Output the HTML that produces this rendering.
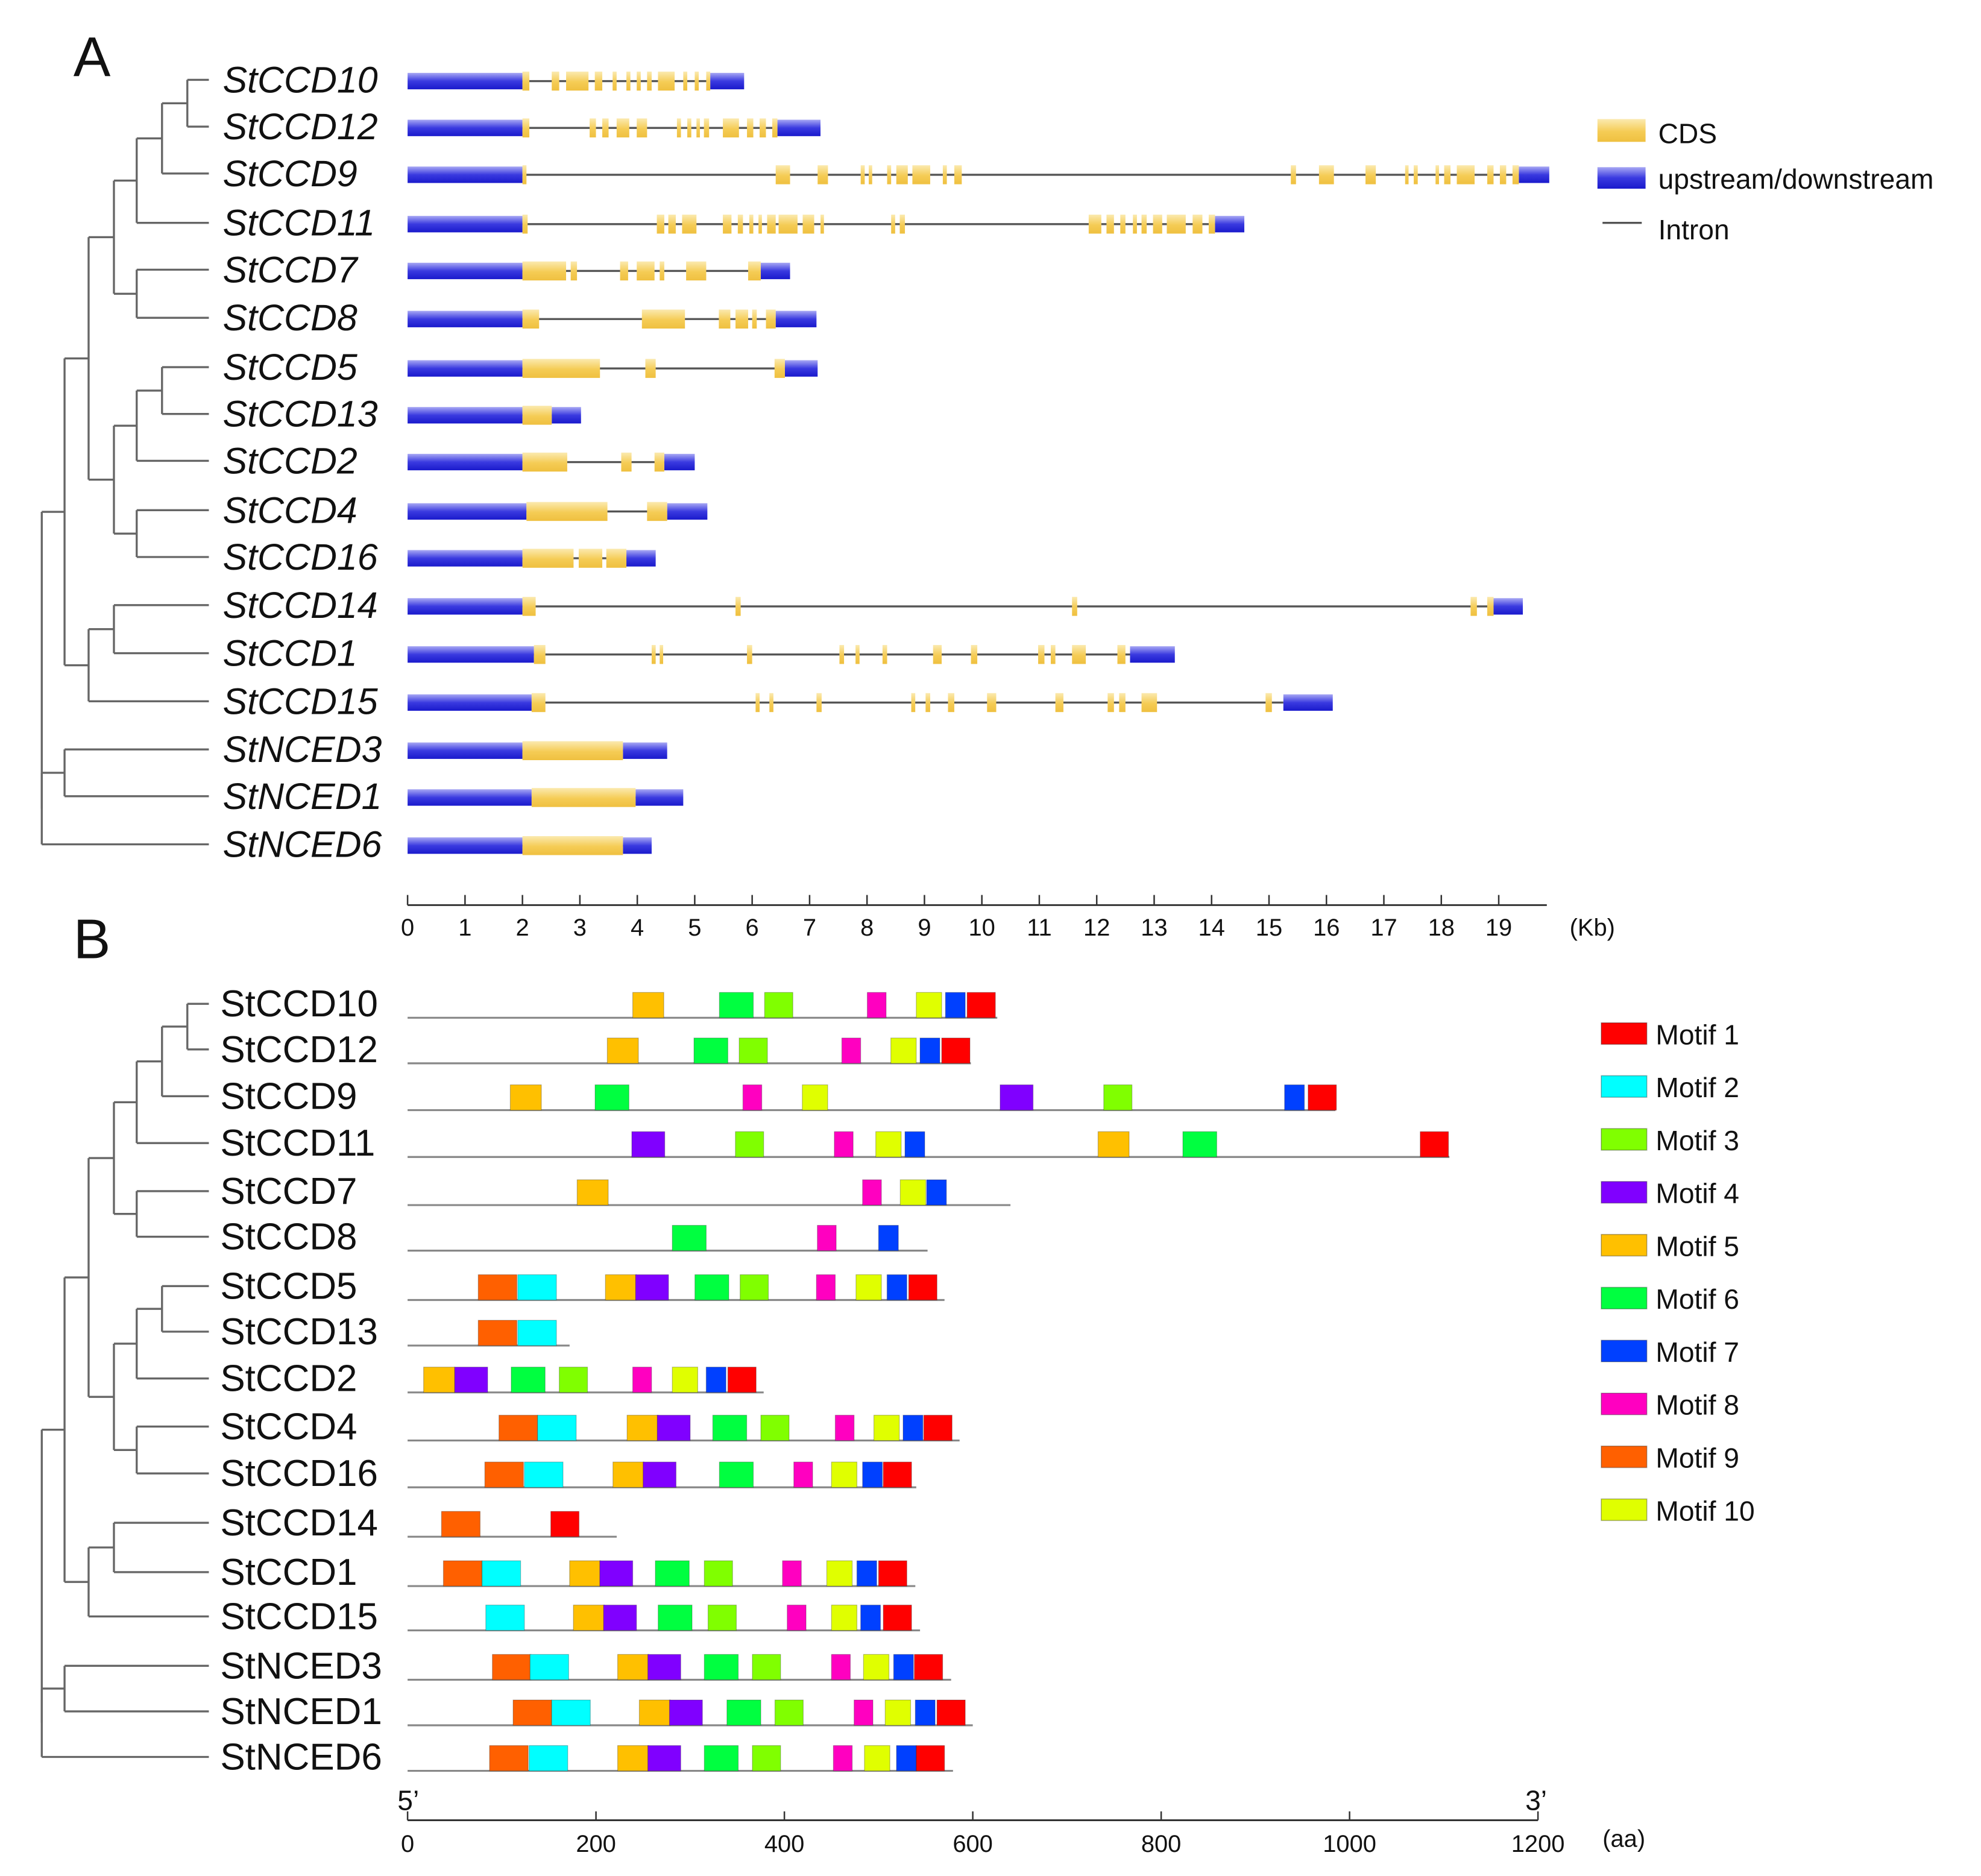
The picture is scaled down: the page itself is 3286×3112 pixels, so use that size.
<!DOCTYPE html>
<html><head><meta charset="utf-8"><style>
html,body{margin:0;padding:0;background:#fff}
svg{display:block}
text{font-family:"Liberation Sans",Arial,sans-serif;fill:#111}
</style></head><body>
<svg id="fig" width="3286" height="3112" viewBox="0 0 1565 1482" xmlns="http://www.w3.org/2000/svg">
<defs>
<linearGradient id="gb" x1="0" y1="0" x2="0" y2="1"><stop offset="0" stop-color="#a8a8f4"/><stop offset="0.5" stop-color="#3a3ae0"/><stop offset="1" stop-color="#1a1acc"/></linearGradient>
<linearGradient id="gy" x1="0" y1="0" x2="0" y2="1"><stop offset="0" stop-color="#fbeab0"/><stop offset="0.55" stop-color="#f5cc55"/><stop offset="1" stop-color="#efc040"/></linearGradient>
</defs>
<g id="panelA"></g>
<g id="panelB"></g>
</svg>
<script>
const genes=["StCCD10","StCCD12","StCCD9","StCCD11","StCCD7","StCCD8","StCCD5","StCCD13","StCCD2","StCCD4","StCCD16","StCCD14","StCCD1","StCCD15","StNCED3","StNCED1","StNCED6"];
const upstreamKb=[2.0,2.0,2.0,2.0,2.0,2.0,2.0,2.0,2.0,2.07,2.0,2.0,2.2,2.16,2.0,2.16,2.0];
const geneEndKb=[5.86,7.19,19.88,14.57,6.66,7.12,7.14,3.02,5.0,5.22,4.32,19.42,13.36,16.11,4.52,4.8,4.25];
const exonsKb=[
[[2.0,2.12],[2.51,2.64],[2.76,3.15],[3.26,3.39],[3.57,3.64],[3.81,3.88],[3.99,4.06],[4.17,4.25],[4.36,4.65],[4.8,4.87],[5.0,5.07],[5.2,5.27]],
[[2.0,2.12],[3.17,3.28],[3.39,3.5],[3.64,3.86],[3.99,4.17],[4.69,4.76],[4.87,4.94],[5.03,5.09],[5.16,5.25],[5.49,5.77],[5.91,6.02],[6.13,6.24],[6.35,6.44]],
[[2.0,2.07],[6.41,6.66],[7.14,7.32],[7.89,7.96],[8.03,8.09],[8.35,8.42],[8.51,8.71],[8.79,9.1],[9.32,9.39],[9.52,9.65],[15.38,15.47],[15.87,16.13],[16.68,16.86],[17.37,17.43],[17.52,17.59],[17.9,17.96],[18.05,18.16],[18.27,18.58],[18.8,18.91],[19.02,19.13],[19.24,19.35]],
[[2.0,2.09],[4.34,4.47],[4.54,4.67],[4.78,5.03],[5.49,5.64],[5.75,5.84],[5.95,6.02],[6.11,6.17],[6.26,6.41],[6.46,6.79],[6.88,7.08],[7.19,7.25],[8.42,8.49],[8.57,8.66],[11.86,12.08],[12.17,12.3],[12.41,12.5],[12.63,12.7],[12.78,12.87],[12.98,13.14],[13.22,13.55],[13.67,13.84],[13.95,14.06]],
[[2.0,2.76],[2.84,2.95],[3.7,3.84],[3.99,4.3],[4.39,4.47],[4.85,5.2],[5.93,6.15]],
[[2.0,2.29],[4.08,4.83],[5.42,5.62],[5.71,5.93],[6.0,6.08],[6.24,6.41]],
[[2.0,3.35],[4.14,4.32],[6.39,6.57]],
[[2.0,2.51]],
[[2.0,2.78],[3.72,3.9],[4.3,4.47]],
[[2.07,3.48],[4.17,4.52]],
[[2.0,2.89],[2.98,3.39],[3.46,3.81]],
[[2.0,2.23],[5.71,5.8],[11.57,11.66],[18.51,18.62],[18.8,18.91]],
[[2.2,2.4],[4.25,4.32],[4.39,4.45],[5.91,6.0],[7.52,7.6],[7.8,7.87],[8.27,8.35],[9.15,9.3],[9.81,9.92],[10.98,11.09],[11.2,11.28],[11.57,11.81],[12.36,12.5],[12.58,12.58]],
[[2.16,2.4],[6.06,6.13],[6.3,6.37],[7.12,7.21],[8.77,8.84],[9.02,9.1],[9.41,9.52],[10.09,10.25],[11.28,11.42],[12.19,12.3],[12.39,12.5],[12.78,13.05],[14.94,15.05],[15.25,15.25]],
[[2.0,3.75]],
[[2.16,3.97]],
[[2.0,3.75]]];
const kbTicks=[0,1,2,3,4,5,6,7,8,9,10,11,12,13,14,15,16,17,18,19];
const proteinLenAa=[626,598,985,1106,640,552,570,172,378,586,540,222,539,544,577,600,579];
const motifLenAa=[30,41,30,35,33,36,21,20,41,27];
const motifColors=["#ff0000","#00ffff","#80ff00","#8000ff","#ffc000","#00ff40","#0040ff","#ff00c0","#ff6000","#e0ff00"];
const motifIds=[
[5,6,3,8,10,7,1],[5,6,3,8,10,7,1],[5,6,8,10,4,3,7,1],[4,3,8,10,7,5,6,1],[5,8,10,7],[6,8,7],
[9,2,5,4,6,3,8,10,7,1],[9,2],[5,4,6,3,8,10,7,1],[9,2,5,4,6,3,8,10,7,1],[9,2,5,4,6,8,10,7,1],[9,1],
[9,2,5,4,6,3,8,10,7,1],[2,5,4,6,3,8,10,7,1],[9,2,5,4,6,3,8,10,7,1],[9,2,5,4,6,3,8,10,7,1],[9,2,5,4,6,3,8,10,7,1]];
const motifStartAa=[
[239,331,379,488,540,571,594],[212,304,352,461,513,544,567],[109,199,356,419,629,739,931,956],[238,348,453,497,528,733,823,1075],[180,483,523,551],[281,435,500],
[75,117,210,242,305,353,434,476,509,532],[75,117],[17,50,110,161,239,281,317,340],[97,138,233,265,324,375,454,495,526,548],[82,124,218,250,331,410,450,483,505],[36,152],
[38,79,172,204,263,315,398,445,477,500],[83,176,208,266,319,403,450,481,505],[90,130,223,255,315,366,450,484,516,538],[112,153,246,278,339,390,474,507,539,562],[87,129,223,255,315,366,452,485,519,540]];
const aaTicks=[0,200,400,600,800,1000,1200];
const rowsA=[64,101,138,177,214,252,291,328,365,404,441,479,517,555,593,630,668];
const rowsB=[804,840,877,914,952,988,1027,1063,1100,1138,1175,1214,1253,1288,1327,1363,1399];

const NS="http://www.w3.org/2000/svg";
function mk(parent,tag,attrs,txt){const e=document.createElementNS(NS,tag);for(const k in attrs)e.setAttribute(k,attrs[k]);if(txt!==undefined)e.textContent=txt;parent.appendChild(e);return e;}
const xKb=kb=>322+kb*(862/19);
const xAa=aa=>322+aa*(893/1200);
const A=document.getElementById('panelA'), B=document.getElementById('panelB');

let t=mk(A,'text',{x:58,y:60,'font-size':44},'A');


t=mk(B,'text',{x:58,y:757,'font-size':44},'B');



function tree(g,rows,name){
  const y=i=>rows[i];
  const tg=mk(g,'g',{stroke:'#666','stroke-width':1.6,fill:'none'});
  
  
  const L=(x1,y1,x2,y2)=>mk(tg,'line',{x1,y1,x2,y2});
  const node=(x,a,b)=>{L(x,a[0],x,b[0]);L(x,a[0],a[1],a[0]);L(x,b[0],b[1],b[0]);return [(a[0]+b[0])/2,x];};
  const leaf=i=>[y(i),165];
  let n1=node(148,leaf(0),leaf(1));
  let n2=node(128,n1,leaf(2));
  let n3=node(108,n2,leaf(3));
  let n4=node(108,leaf(4),leaf(5));
  let n5=node(90,n3,n4);
  let n6=node(128,leaf(6),leaf(7));
  let n7=node(108,n6,leaf(8));
  let n8=node(108,leaf(9),leaf(10));
  let n9=node(90,n7,n8);
  let n10=node(70,n5,n9);
  let n11=node(90,leaf(11),leaf(12));
  let n12=node(70,n11,leaf(13));
  let n13=node(51,n10,n12);
  let n14=node(51,leaf(14),leaf(15));
  let n15=node(33,n14,leaf(16));
  L(33,n13[0],33,n15[0]);L(33,n13[0],51,n13[0]);
}
tree(A,rowsA.map(v=>v-1),'tree-a');
tree(B,rowsB.map(v=>v-11),'tree-b');

genes.forEach((gname,i)=>{
  const cy=rowsA[i];
  const g=mk(A,'g',{});
  
  
  const lb=mk(g,'text',{x:176,y:cy+9,'font-size':29,'font-style':'italic'},gname);
  
  
  const ex=exonsKb[i];
  const lastEnd=ex[ex.length-1][1];
  const il=mk(g,'line',{x1:xKb(upstreamKb[i]),x2:xKb(lastEnd),y1:cy,y2:cy,stroke:'#555','stroke-width':1.6});
  
  
  const h=13;
  const up=mk(g,'rect',{x:xKb(0),y:cy-h/2,width:xKb(upstreamKb[i])-xKb(0),height:h,fill:'url(#gb)'});
  
  
  const dn=mk(g,'rect',{x:xKb(lastEnd),y:cy-h/2,width:Math.max(0,xKb(geneEndKb[i])-xKb(lastEnd)),height:h,fill:'url(#gb)'});
  
  
  ex.forEach(e=>{
    if(e[1]<=e[0])return;
    const r=mk(g,'rect',{x:xKb(e[0]),y:cy-h/2-1,width:Math.max(2.5,xKb(e[1])-xKb(e[0])),height:h+2,fill:'url(#gy)'});
    
    
  });
});
const axA=mk(A,'g',{});


mk(axA,'line',{x1:322,x2:1222,y1:715,y2:715,stroke:'#333','stroke-width':1.4});
kbTicks.forEach(k=>{
  mk(axA,'line',{x1:xKb(k),x2:xKb(k),y1:707,y2:715,stroke:'#333','stroke-width':1.2});
  const tl=mk(axA,'text',{x:xKb(k),y:739,'font-size':19,'text-anchor':'middle'},k);
  
  
});
t=mk(axA,'text',{x:1240,y:739,'font-size':19},'(Kb)');


const lgA=mk(A,'g',{});


mk(lgA,'rect',{x:1262,y:94,width:38,height:18,fill:'url(#gy)'});
mk(lgA,'text',{x:1310,y:113,'font-size':22},'CDS');
mk(lgA,'rect',{x:1262,y:132,width:38,height:17,fill:'url(#gb)'});
mk(lgA,'text',{x:1310,y:149,'font-size':22},'upstream/downstream');
mk(lgA,'line',{x1:1266,x2:1297,y1:176,y2:176,stroke:'#555','stroke-width':1.6});
mk(lgA,'text',{x:1310,y:189,'font-size':22},'Intron');

genes.forEach((gname,i)=>{
  const by=rowsB[i];
  const g=mk(B,'g',{});
  
  
  const lb=mk(g,'text',{x:174,y:by-1,'font-size':29.5},gname);
  
  
  const pl=mk(g,'line',{x1:xAa(0),x2:xAa(proteinLenAa[i]),y1:by,y2:by,stroke:'#888','stroke-width':1.5});
  
  
  motifIds[i].forEach((m,j)=>{
    const s=motifStartAa[i][j];
    const r=mk(g,'rect',{x:xAa(s),y:by-20,width:xAa(s+motifLenAa[m-1])-xAa(s),height:20,fill:motifColors[m-1],stroke:'rgba(0,0,0,0.25)','stroke-width':0.6});
    
    
  });
});
const axB=mk(B,'g',{});


mk(axB,'line',{x1:322,x2:1215,y1:1438,y2:1438,stroke:'#333','stroke-width':1.4});
aaTicks.forEach(a=>{
  mk(axB,'line',{x1:xAa(a),x2:xAa(a),y1:1431,y2:1438,stroke:'#333','stroke-width':1.2});
  const tl=mk(axB,'text',{x:xAa(a),y:1463,'font-size':19,'text-anchor':'middle'},a);
  
  
});
t=mk(axB,'text',{x:314,y:1430,'font-size':22},'5’');


t=mk(axB,'text',{x:1205,y:1430,'font-size':22},'3’');


t=mk(axB,'text',{x:1266,y:1459,'font-size':19},'(aa)');


const lgB=mk(B,'g',{});


motifColors.forEach((c,k)=>{
  const yy=808+k*41.8;
  const r=mk(lgB,'rect',{x:1265,y:yy,width:36,height:17,fill:c,stroke:'rgba(0,0,0,0.3)','stroke-width':0.8});
  
  
  const tx=mk(lgB,'text',{x:1308,y:yy+17,'font-size':22},'Motif '+(k+1));
  
  
});
</script>
</body></html>
